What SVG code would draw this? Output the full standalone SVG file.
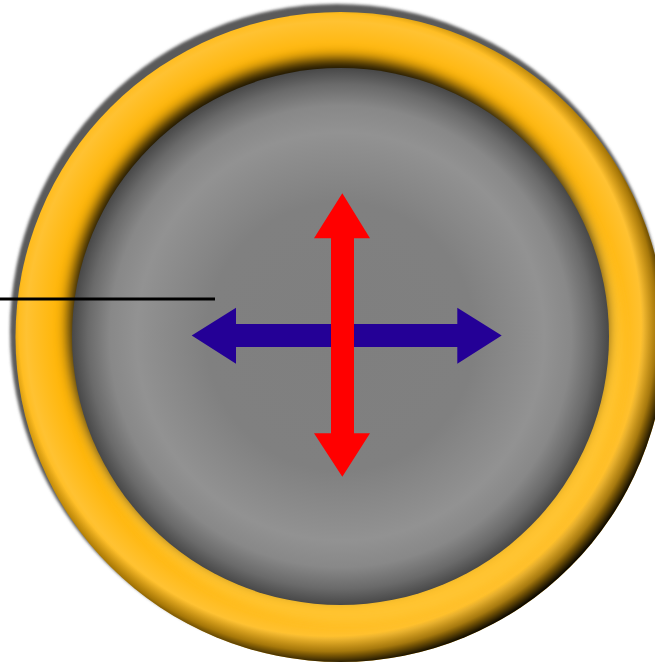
<svg xmlns="http://www.w3.org/2000/svg" width="655" height="664" viewBox="0 0 655 664">
  <defs>
    <filter id="blurS" x="-10%" y="-10%" width="120%" height="120%"><feGaussianBlur stdDeviation="1.8"/></filter>
    <filter id="blurM" x="-10%" y="-10%" width="120%" height="120%"><feGaussianBlur stdDeviation="5"/></filter>
    <filter id="blurL" x="-10%" y="-10%" width="120%" height="120%"><feGaussianBlur stdDeviation="7"/></filter>
    <radialGradient id="outerDark" gradientUnits="userSpaceOnUse" cx="330" cy="325" r="340">
      <stop offset="0.915" stop-color="#000" stop-opacity="0"/>
      <stop offset="0.96" stop-color="#000" stop-opacity="0.35"/>
      <stop offset="1" stop-color="#000" stop-opacity="0.95"/>
    </radialGradient>
    <radialGradient id="ringTone" gradientUnits="userSpaceOnUse" cx="335" cy="330" r="325">
      <stop offset="0.86" stop-color="#FFB60A"/>
      <stop offset="0.95" stop-color="#FFC232"/>
      <stop offset="1" stop-color="#FFB60A"/>
    </radialGradient>
    <radialGradient id="diskGrad" gradientUnits="userSpaceOnUse" cx="340.5" cy="336.5" r="268.5">
      <stop offset="0" stop-color="#7f7f7f"/>
      <stop offset="0.5" stop-color="#808080"/>
      <stop offset="0.76" stop-color="#929292"/>
      <stop offset="0.86" stop-color="#888888"/>
      <stop offset="0.94" stop-color="#6a6a6a"/>
      <stop offset="1" stop-color="#484848"/>
    </radialGradient>
    <style>
      .red { fill: #FF0000; }
      .blue { fill: #240096; }
      .lead { stroke: #000; stroke-width: 3; fill: none; }
    </style>
  </defs>

  <g id="ring">
    <circle cx="337" cy="331" r="327" fill="#5a5a5a" filter="url(#blurS)"/>
    <circle cx="340.5" cy="337" r="325" fill="url(#ringTone)"/>
    <circle cx="340.5" cy="337" r="325" fill="url(#outerDark)"/>
    <circle cx="347" cy="347" r="276" fill="#FFCB45" fill-opacity="0.6" filter="url(#blurM)"/>
    <circle cx="337" cy="327" r="268" fill="#000" fill-opacity="0.92" filter="url(#blurL)"/>
  </g>

  <g id="disk">
    <circle cx="340.5" cy="336.5" r="268.5" fill="url(#diskGrad)"/>
  </g>

  <g id="arrows">
    <polygon class="blue" points="191.7,335.5 236,307.7 236,324 457.3,324 457.3,307.7 501.7,335.5 457.3,363.7 457.3,347 236,347 236,363.7"/>
    <polygon class="red" points="342.3,193.3 370,238.3 354,238.3 354,433.3 370,433.3 342.3,476.7 314,433.3 331,433.3 331,238.3 314,238.3"/>
  </g>

  <g id="connectors">
    <line class="lead" x1="0" y1="299" x2="215" y2="299"/>
  </g>
</svg>
